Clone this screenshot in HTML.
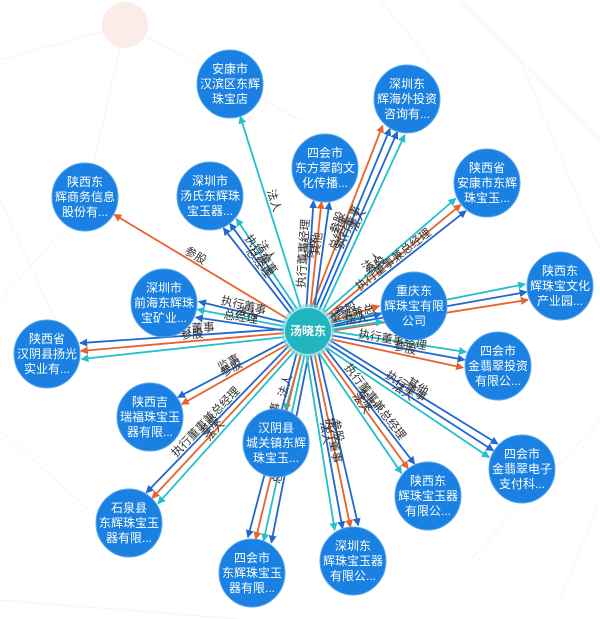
<!DOCTYPE html>
<html><head><meta charset="utf-8"><style>
html,body{margin:0;padding:0;background:#fff;}
svg{display:block;font-family:"Liberation Sans","Noto Sans CJK SC",sans-serif;}
.l{font-size:11.5px;fill:#333;}
.nt{font-size:12px;fill:#fff;text-anchor:middle;}
</style></head><body>
<svg id="s" width="600" height="619" viewBox="0 0 600 619" xmlns="http://www.w3.org/2000/svg">
<defs>
<marker id="mo" markerWidth="8" markerHeight="8" refX="7" refY="4" orient="auto-start-reverse" markerUnits="userSpaceOnUse"><path d="M0,0 L8,4 L0,8 Z" fill="#e8622c"/></marker>
<marker id="mb" markerWidth="8" markerHeight="8" refX="7" refY="4" orient="auto-start-reverse" markerUnits="userSpaceOnUse"><path d="M0,0 L8,4 L0,8 Z" fill="#2067d0"/></marker>
<marker id="mt" markerWidth="8" markerHeight="8" refX="7" refY="4" orient="auto-start-reverse" markerUnits="userSpaceOnUse"><path d="M0,0 L8,4 L0,8 Z" fill="#22bfcc"/></marker>
</defs>
<g stroke="#f4f4f4" stroke-width="1" fill="none">
<path d="M125,25 L0,60 M125,25 L90,180 M125,25 L300,120 M0,200 L60,330 M460,0 L600,140 M520,60 L600,250 M0,430 L100,520 M0,600 L250,620 M600,420 L470,560 M560,600 L600,500 M0,300 L90,200 M380,0 L430,60"/>
</g>
<circle cx="125" cy="25" r="23" fill="#fcece7"/>
<g id="edges" fill="none" stroke-width="1.8">
<path id="p0"/><path id="p1"/><path id="p2"/><path id="p3"/><path id="p4"/><path id="p5"/><path id="p6"/><path id="p7"/><path id="p8"/><path id="p9"/>
<path id="p10"/><path id="p11"/><path id="p12"/><path id="p13"/><path id="p14"/><path id="p15"/><path id="p16"/><path id="p17"/><path id="p18"/><path id="p19"/>
<path id="p20"/><path id="p21"/><path id="p22"/><path id="p23"/><path id="p24"/><path id="p25"/><path id="p26"/><path id="p27"/><path id="p28"/><path id="p29"/>
<path id="p30"/><path id="p31"/><path id="p32"/><path id="p33"/><path id="p34"/><path id="p35"/><path id="p36"/><path id="p37"/><path id="p38"/><path id="p39"/>
<path id="p40"/><path id="p41"/><path id="p42"/><path id="p43"/><path id="p44"/><path id="p45"/><path id="p46"/><path id="p47"/><path id="p48"/><path id="p49"/>
</g>
<g class="l" text-anchor="middle" dominant-baseline="text-after-edge">
<text><textPath href="#p0" startOffset="45%">法人</textPath></text>
<text><textPath href="#p1" startOffset="45%">参股</textPath></text>
<text><textPath href="#p2" startOffset="40%">总经理</textPath></text>
<text><textPath href="#p3" startOffset="45%">执行董事</textPath></text>
<text><textPath href="#p4" startOffset="50%">法人</textPath></text>
<text><textPath href="#p5" startOffset="50%">执行董事经理</textPath></text>
<text><textPath href="#p6" startOffset="55%">参股</textPath></text>
<text><textPath href="#p7" startOffset="60%">其他</textPath></text>
<text><textPath href="#p8" startOffset="40%">法人</textPath></text>
<text><textPath href="#p9" startOffset="40%">参股</textPath></text>
<text><textPath href="#p10" startOffset="50%">执行董事兼总经理</textPath></text>
<text><textPath href="#p11" startOffset="45%">总经理</textPath></text>
<text><textPath href="#p12" startOffset="40%">执行董事</textPath></text>
<text><textPath href="#p13" startOffset="40%">法人</textPath></text>
<text><textPath href="#p14" startOffset="45%">参股</textPath></text>
<text><textPath href="#p15" startOffset="50%"></textPath></text>
<text><textPath href="#p16" startOffset="40%">总经理</textPath></text>
<text><textPath href="#p17" startOffset="45%"></textPath></text>
<text><textPath href="#p18" startOffset="50%">总经理</textPath></text>
<text><textPath href="#p19" startOffset="55%">法人</textPath></text>
<text><textPath href="#p20" startOffset="50%">执行董事</textPath></text>
<text><textPath href="#p21" startOffset="35%">参股</textPath></text>
<text><textPath href="#p22" startOffset="45%">执行董事兼总经理</textPath></text>
<text><textPath href="#p23" startOffset="50%">法人</textPath></text>
<text><textPath href="#p24" startOffset="50%"></textPath></text>
<text><textPath href="#p25" startOffset="55%">参股</textPath></text>
<text><textPath href="#p26" startOffset="55%">执行董事</textPath></text>
<text><textPath href="#p27" startOffset="50%"></textPath></text>
<text><textPath href="#p28" startOffset="45%">执行董事经理</textPath></text>
<text><textPath href="#p29" startOffset="55%">参股</textPath></text>
<text><textPath href="#p30" startOffset="50%">参股</textPath></text>
<text><textPath href="#p31" startOffset="50%">监事</textPath></text>
<text><textPath href="#p32" startOffset="40%">法人</textPath></text>
<text><textPath href="#p33" startOffset="50%">其他</textPath></text>
<text><textPath href="#p34" startOffset="45%">执行董事</textPath></text>
<text><textPath href="#p35" startOffset="45%">法人</textPath></text>
<text><textPath href="#p36" startOffset="50%">执行董事兼总经理</textPath></text>
<text><textPath href="#p37" startOffset="45%">参股</textPath></text>
<text><textPath href="#p38" startOffset="45%">法人</textPath></text>
<text><textPath href="#p39" startOffset="45%">法人</textPath></text>
<text><textPath href="#p40" startOffset="45%">参股</textPath></text>
<text><textPath href="#p41" startOffset="45%">执行董事兼总经理</textPath></text>
<text><textPath href="#p42" startOffset="40%">总经理</textPath></text>
<text><textPath href="#p43" startOffset="45%"></textPath></text>
<text><textPath href="#p44" startOffset="40%">参股</textPath></text>
<text><textPath href="#p45" startOffset="60%">执行董事</textPath></text>
<text><textPath href="#p46" startOffset="50%"></textPath></text>
<text><textPath href="#p47" startOffset="45%">参股</textPath></text>
<text><textPath href="#p48" startOffset="50%">执行董事</textPath></text>
<text><textPath href="#p49" startOffset="45%">法人</textPath></text>
</g>
<g fill="#1a80e2" stroke="#5aaaf0" stroke-width="1">
<ellipse cx="230" cy="84" rx="33" ry="34"/>
<ellipse cx="407" cy="99" rx="33" ry="34"/>
<ellipse cx="325" cy="168" rx="33" ry="34"/>
<ellipse cx="487" cy="183" rx="33" ry="34"/>
<ellipse cx="210" cy="196" rx="33" ry="34"/>
<ellipse cx="85" cy="197" rx="33" ry="34"/>
<ellipse cx="560" cy="286" rx="33" ry="34"/>
<ellipse cx="164" cy="303" rx="33" ry="34"/>
<ellipse cx="414" cy="306" rx="33" ry="34"/>
<ellipse cx="47" cy="354" rx="33" ry="34"/>
<ellipse cx="498" cy="366" rx="33" ry="34"/>
<ellipse cx="150" cy="417" rx="33" ry="34"/>
<ellipse cx="276" cy="443" rx="33" ry="34"/>
<ellipse cx="522" cy="469" rx="33" ry="34"/>
<ellipse cx="428" cy="496" rx="33" ry="34"/>
<ellipse cx="129" cy="523" rx="33" ry="34"/>
<ellipse cx="252" cy="573" rx="33" ry="34"/>
<ellipse cx="353" cy="561" rx="33" ry="34"/>
</g>
<circle cx="308" cy="331" r="27" fill="#7fd6dc" opacity="0.6"/>
<circle cx="308" cy="331" r="23" fill="#21b5c0"/>
<text x="308" y="335" class="nt" style="font-size:12px;font-weight:bold">汤晓东</text>
<g class="nt">
<text x="230" y="73">安康市</text><text x="230" y="88">汉滨区东辉</text><text x="230" y="103">珠宝店</text>
<text x="407" y="88">深圳东</text><text x="407" y="103">辉海外投资</text><text x="407" y="118">咨询有...</text>
<text x="325" y="157">四会市</text><text x="325" y="172">东方翠韵文</text><text x="325" y="187">化传播...</text>
<text x="487" y="172">陕西省</text><text x="487" y="187">安康市东辉</text><text x="487" y="202">珠宝玉...</text>
<text x="210" y="185">深圳市</text><text x="210" y="200">汤氏东辉珠</text><text x="210" y="215">宝玉器...</text>
<text x="85" y="186">陕西东</text><text x="85" y="201">辉商务信息</text><text x="85" y="216">股份有...</text>
<text x="560" y="275">陕西东</text><text x="560" y="290">辉珠宝文化</text><text x="560" y="305">产业园...</text>
<text x="164" y="292">深圳市</text><text x="164" y="307">前海东辉珠</text><text x="164" y="322">宝矿业...</text>
<text x="414" y="295">重庆东</text><text x="414" y="310">辉珠宝有限</text><text x="414" y="325">公司</text>
<text x="47" y="343">陕西省</text><text x="47" y="358">汉阴县扬光</text><text x="47" y="373">实业有...</text>
<text x="498" y="355">四会市</text><text x="498" y="370">金翡翠投资</text><text x="498" y="385">有限公...</text>
<text x="150" y="406">陕西吉</text><text x="150" y="421">瑞福珠宝玉</text><text x="150" y="436">器有限...</text>
<text x="276" y="432">汉阴县</text><text x="276" y="447">城关镇东辉</text><text x="276" y="462">珠宝玉...</text>
<text x="522" y="458">四会市</text><text x="522" y="473">金翡翠电子</text><text x="522" y="488">支付科...</text>
<text x="428" y="485">陕西东</text><text x="428" y="500">辉珠宝玉器</text><text x="428" y="515">有限公...</text>
<text x="129" y="512">石泉县</text><text x="129" y="527">东辉珠宝玉</text><text x="129" y="542">器有限...</text>
<text x="252" y="562">四会市</text><text x="252" y="577">东辉珠宝玉</text><text x="252" y="592">器有限...</text>
<text x="353" y="550">深圳东</text><text x="353" y="565">辉珠宝玉器</text><text x="353" y="580">有限公...</text>
</g>
</svg>
<script>
var N=[[230,84],[407,99],[325,168],[487,183],[210,196],[85,197],[560,286],[164,303],[414,306],[47,354],[498,366],[150,417],[276,443],[522,469],[428,496],[129,523],[252,573],[353,561]];
var E=[[0,0,'t'],
[1,-12,'o'],[1,-4,'b'],[1,4,'b'],[1,12,'t'],
[2,-8,'b'],[2,0,'o'],[2,8,'b'],
[3,-8,'t'],[3,0,'o'],[3,8,'b'],
[4,-8,'b'],[4,0,'b'],[4,8,'t'],
[5,0,'o'],
[6,-8,'t'],[6,0,'b'],[6,8,'o'],
[7,-8,'b'],[7,0,'t'],[7,8,'b'],
[8,-8,'o'],[8,0,'b'],[8,8,'t'],
[9,-8,'t'],[9,0,'o'],[9,8,'b'],
[10,-8,'t'],[10,0,'b'],[10,8,'o'],
[11,-4,'o'],[11,4,'b'],
[12,0,'t'],
[13,-8,'b'],[13,0,'b'],[13,8,'t'],
[14,-8,'b'],[14,0,'o'],[14,8,'t'],
[15,-8,'t'],[15,0,'o'],[15,8,'b'],
[16,-12,'b'],[16,-4,'t'],[16,4,'o'],[16,12,'b'],
[17,-12,'b'],[17,-4,'o'],[17,4,'b'],[17,12,'t']];
var C=[308,331],col={o:'#e8622c',b:'#2067d0',t:'#22bfcc'};
var ps=document.querySelectorAll('#edges path');
for(var i=0;i<ps.length&&i<E.length;i++){var p=ps[i];
var e=E[i],n=N[e[0]],dx=n[0]-C[0],dy=n[1]-C[1],L=Math.sqrt(dx*dx+dy*dy),ux=dx/L,uy=dy/L,px=-uy,py=ux,o=e[1];
var sx=C[0]+ux*24+px*o*0.5,sy=C[1]+uy*24+py*o*0.5,ex=n[0]-ux*34+px*o,ey=n[1]-uy*34+py*o;
p.setAttribute('stroke',col[e[2]]);
if(dx>=0){p.setAttribute('d','M'+sx+','+sy+' L'+ex+','+ey);p.setAttribute('marker-end','url(#m'+e[2]+')');}
else{p.setAttribute('d','M'+ex+','+ey+' L'+sx+','+sy);p.setAttribute('marker-start','url(#m'+e[2]+')');}}
</script>
</body></html>
